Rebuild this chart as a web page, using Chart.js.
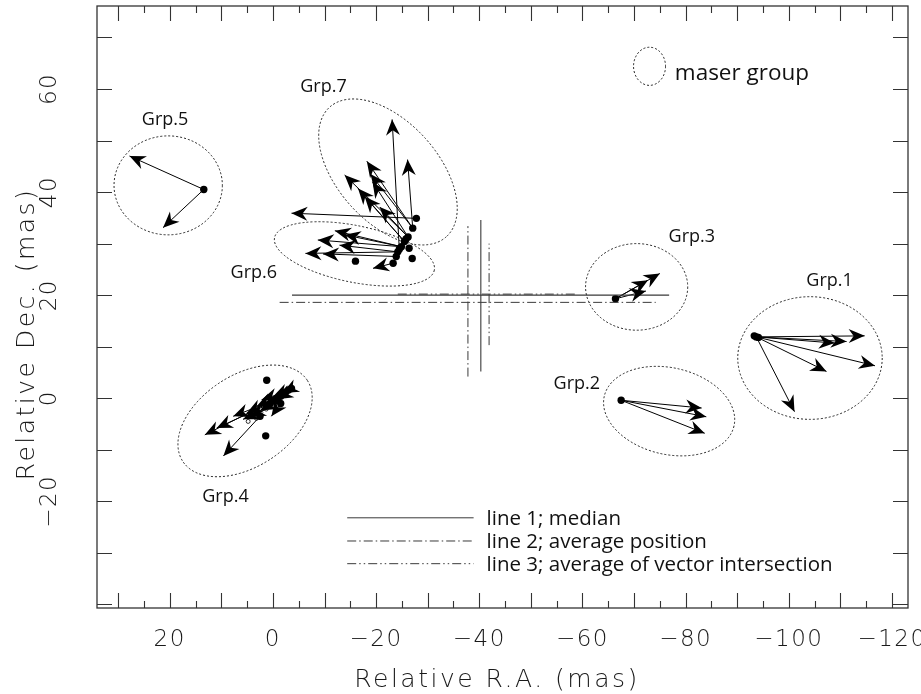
<!DOCTYPE html>
<html><head><meta charset="utf-8">
<script src="https://cdn.jsdelivr.net/npm/chart.js@4.4.1/dist/chart.umd.min.js"></script>
<style>html,body{margin:0;padding:0;background:#fff;}canvas{display:block;}</style>
</head><body>
<canvas id="c" width="921" height="694"></canvas>
<script>
// ---------- data (mas) ----------
const xTickLabels = [20, 0, -20, -40, -60, -80, -100, -120];
const yTickLabels = [60, 40, 20, 0, -20];

// maser spot positions
const spotRA  = [-93.7,-93.3,-94.1, -67.5, -66.4, 13.4,
  -27.8,-27.1,-26.2,-25.5,-24.9,-24.2,-23.9,-23.3,-26.4,-27.0,-16.0,-25.8,-24.5,
  1.2, 1.4, -1.0,2.5,0.5,-0.5,-1.5,-2.0,-2.5,-3.0,-3.6,-1.5];
const spotDec = [11.9,12.1,11.8, -0.4, 19.3, 40.5,
  34.9,33.0,31.3,30.4,29.4,28.4,27.5,26.2,29.1,27.1,26.6,30.9,28.9,
  3.5, -7.3, 0.0,-3.5,-1.0,-0.3,0.4,0.8,1.2,1.6,1.9,-1.0];

// hollow spots (group 4)
const hollowRA  = [1.3, 4.2, 3.2, 4.8];
const hollowDec = [-2.1, -3.2, -3.9, -4.5];

// proper-motion vectors: start -> end
const vecStartRA  = [-93.7,-93.7,-93.7,-93.7,-93.7,-93.7,
  -67.5,-67.5,-67.5,
  -66.4,-66.4,-66.4,
  13.4,13.4,
  -24.5,-27.1,-27.1,-26.2,-27.1,-26.2,-25.5,-25.5,-26.2,-27.8,
  -24.2,-23.9,-24.9,-24.9,-24.2,-24.9,-23.3,
  -1.0,2.5,0.5,-0.5,-1.5,-2.0,-2.5,-3.0,-3.6,-1.5,
  -3.2,-2.2,-0.8,0.2,1.0];
const vecStartDec = [11.9,11.9,11.9,11.9,11.9,11.9,
  -0.4,-0.4,-0.4,
  19.3,19.3,19.3,
  40.5,40.5,
  28.9,33.0,33.0,31.3,33.0,31.3,30.4,30.4,31.3,34.9,
  28.4,27.5,29.4,29.4,28.4,29.4,26.2,
  0.0,-3.5,-1.0,-0.3,0.4,0.8,1.2,1.6,1.9,-1.0,
  1.2,0.3,-0.6,-1.4,-2.0];
const vecEndRA  = [-114.7,-111.2,-108.9,-116.7,-107.3,-101.1,
  -83.1,-84.0,-83.7,
  -75.0,-72.7,-72.3,
  27.8,21.3,
  -23.1,-26.1,-18.2,-13.9,-18.9,-19.3,-16.5,-17.8,-20.7,-3.6,
  -6.3,-9.7,-8.7,-12.0,-12.9,-13.9,-19.4,
  13.2,9.6,10.9,7.7,5.1,3.2,2.2,0.0,-1.9,0.3,
  -0.8,1.2,2.5,4.5,5.8];
const vecEndDec = [12.1,11.0,10.7,6.3,5.2,-2.6,
  -1.9,-3.6,-6.8,
  24.2,22.9,20.8,
  47.0,33.1,
  54.1,46.3,46.0,43.3,43.5,42.0,40.7,39.1,37.1,35.9,
  28.1,28.0,30.7,32.5,29.7,31.7,25.2,
  -7.1,-11.2,-5.8,-3.5,-2.9,-1.6,-0.3,0.3,1.0,-3.5,
  -0.2,-1.2,-2.4,-3.6,-4.1];

// maser groups (ellipses): centre, semi-axes (mas), tilt (deg, clockwise on the plot)
const groupNames = ['Grp.1','Grp.2','Grp.3','Grp.4','Grp.5','Grp.6','Grp.7'];
const groupRA    = [-104.1, -76.8, -70.5, 5.4, 20.3, -15.8, -22.3];
const groupDec   = [7.8, -2.5, 21.6, -4.4, 41.3, 28.0, 43.9];
const groupSemiA = [14.0, 12.9, 9.9, 14.4, 10.5, 15.8, 16.9];
const groupSemiB = [11.9, 8.4, 8.4, 8.9, 9.6, 5.5, 9.75];
const groupTilt  = [0, 13, 0, -33, 0, 11.5, 48];
const labelRA    = [-107.9, -58.9, -81.2, 9.2, 20.9, 3.7, -9.8];
const labelDec   = [21.8, 1.8, 30.3, -20.1, 53.0, 23.3, 59.4];

// centre-estimate lines (line1 median, line2 average position, line3 avg of vector intersection)
const line1RA  = [-3.7, -76.8, null, -40.3, -40.3];
const line1Dec = [20.0, 20.0, null, 5.2, 34.6];
const line2RA  = [-1.3, -74.2, null, -37.8, -37.8];
const line2Dec = [18.6, 18.6, null, 4.2, 33.4];
const line3RA  = [-24.2, -58.9, null, -41.9, -41.9];
const line3Dec = [20.2, 20.2, null, 10.3, 30.0];
const lineNames = ['line 1; median', 'line 2; average position', 'line 3; average of vector intersection'];

// ---------- build datasets ----------
const pts = (xs, ys) => xs.map((x, i) => ({x: x, y: ys[i]}));
const shaft = [];
for (let i = 0; i < vecStartRA.length; i++) {
  shaft.push({x: vecStartRA[i], y: vecStartDec[i]}, {x: vecEndRA[i], y: vecEndDec[i]}, {x: null, y: null});
}
const DASH2 = [9, 3, 1.5, 3];
const DASH3 = [9, 3, 1.5, 3, 1.5, 3];
const LINECOL = '#3a3a3a';

const tickFont = "200 23px 'DejaVu Sans', sans-serif";
const titleFont = "200 25px 'DejaVu Sans', sans-serif";
const annFont = "'Open Sans', 'Noto Sans', sans-serif";

function arrowHead(ctx, x0, y0, x1, y1) {
  const dx = x1 - x0, dy = y1 - y0, len = Math.hypot(dx, dy);
  if (len < 1) return;
  const ux = dx / len, uy = dy / len, nx = -uy, ny = ux;
  const L = 16, W = 7, N = 11;
  ctx.beginPath();
  ctx.moveTo(x1, y1);
  ctx.lineTo(x1 - L * ux + W * nx, y1 - L * uy + W * ny);
  ctx.lineTo(x1 - N * ux, y1 - N * uy);
  ctx.lineTo(x1 - L * ux - W * nx, y1 - L * uy - W * ny);
  ctx.closePath();
  ctx.fill();
}

const decor = {
  id: 'decor',
  beforeDatasetsDraw(chart) {
    const ctx = chart.ctx, xs = chart.scales.x, ys = chart.scales.y;
    ctx.save();
    ctx.strokeStyle = '#222';
    ctx.lineWidth = 1;
    ctx.setLineDash([2, 2]);
    const ell = (cx, cy, a, b, t) => {
      const px = xs.getPixelForValue(cx), py = ys.getPixelForValue(cy);
      const rx = Math.abs(xs.getPixelForValue(cx + a) - px);
      const ry = Math.abs(ys.getPixelForValue(cy + b) - py);
      ctx.beginPath();
      ctx.ellipse(px, py, rx, ry, t * Math.PI / 180, 0, Math.PI * 2);
      ctx.stroke();
    };
    for (let i = 0; i < groupNames.length; i++) ell(groupRA[i], groupDec[i], groupSemiA[i], groupSemiB[i], groupTilt[i]);
    // key ellipse
    ell(-73.0, 64.4, 3.1, 3.7, 0);
    ctx.setLineDash([]);
    ctx.fillStyle = '#111';
    ctx.textAlign = 'center';
    ctx.textBaseline = 'alphabetic';
    ctx.font = '18px ' + annFont;
    for (let i = 0; i < groupNames.length; i++) {
      ctx.fillText(groupNames[i], xs.getPixelForValue(labelRA[i]), ys.getPixelForValue(labelDec[i]));
    }
    ctx.textAlign = 'left';
    ctx.font = '22.5px ' + annFont;
    ctx.fillText('maser group', xs.getPixelForValue(-77.9), ys.getPixelForValue(61.7));
    // legend of lines
    const lx0 = xs.getPixelForValue(-14.4), lx1 = xs.getPixelForValue(-38.9);
    const rows = [-23.2, -27.7, -32.1];
    const dashes = [[], DASH2, DASH3];
    ctx.font = '20.5px ' + annFont;
    ctx.textBaseline = 'middle';
    rows.forEach((r, i) => {
      const yy = ys.getPixelForValue(r);
      ctx.strokeStyle = LINECOL;
      ctx.setLineDash(dashes[i]);
      ctx.beginPath(); ctx.moveTo(lx0, yy); ctx.lineTo(lx1, yy); ctx.stroke();
      ctx.setLineDash([]);
      ctx.fillText(lineNames[i], lx1 + 13, yy + 1);
    });
    ctx.restore();
  },
  afterDatasetsDraw(chart) {
    const ctx = chart.ctx, xs = chart.scales.x, ys = chart.scales.y;
    ctx.save();
    ctx.fillStyle = '#000';
    for (let i = 0; i < vecStartRA.length; i++) {
      arrowHead(ctx, xs.getPixelForValue(vecStartRA[i]), ys.getPixelForValue(vecStartDec[i]),
                xs.getPixelForValue(vecEndRA[i]), ys.getPixelForValue(vecEndDec[i]));
    }
    ctx.restore();
  },
  afterDraw(chart) {
    const ctx = chart.ctx, xs = chart.scales.x, ys = chart.scales.y, a = chart.chartArea;
    ctx.save();
    ctx.strokeStyle = '#333';
    ctx.lineWidth = 1.3;
    ctx.strokeRect(a.left, a.top, a.right - a.left, a.bottom - a.top);
    ctx.lineWidth = 1.1;
    ctx.beginPath();
    for (let v = -120; v <= 30; v += 5) {
      const px = Math.round(xs.getPixelForValue(v)) + 0.5;
      const len = (v % 10 === 0) ? 15 : 7;
      ctx.moveTo(px, a.bottom); ctx.lineTo(px, a.bottom - len);
      ctx.moveTo(px, a.top); ctx.lineTo(px, a.top + len);
    }
    for (let v = -40; v <= 70; v += 10) {
      const py = Math.round(ys.getPixelForValue(v)) + 0.5;
      ctx.moveTo(a.left, py); ctx.lineTo(a.left + 15, py);
      ctx.moveTo(a.right, py); ctx.lineTo(a.right - 15, py);
    }
    ctx.stroke();
    ctx.fillStyle = '#1a1a1a';
    ctx.font = tickFont;
    ctx.letterSpacing = '1.5px';
    ctx.textAlign = 'center';
    ctx.textBaseline = 'alphabetic';
    const fmt = v => (v < 0 ? '\u2212' + Math.abs(v) : String(v));
    xTickLabels.forEach(v => ctx.fillText(fmt(v), xs.getPixelForValue(v), a.bottom + 38));
    yTickLabels.forEach(v => {
      ctx.save();
      ctx.translate(a.left - 41, ys.getPixelForValue(v));
      ctx.rotate(-Math.PI / 2);
      ctx.fillText(fmt(v), 0, 0);
      ctx.restore();
    });
    ctx.font = titleFont;
    ctx.letterSpacing = '2.5px';
    ctx.fillText('Relative R.A. (mas)', 497, a.bottom + 79);
    ctx.save();
    ctx.translate(a.left - 63, 334);
    ctx.rotate(-Math.PI / 2);
    ctx.fillText('Relative Dec. (mas)', 0, 0);
    ctx.restore();
    ctx.restore();
  }
};

new Chart(document.getElementById('c'), {
  type: 'scatter',
  data: {
    datasets: [
      {label: 'line1', data: pts(line1RA, line1Dec), showLine: true, spanGaps: false, borderColor: LINECOL, borderWidth: 1.1, pointRadius: 0},
      {label: 'line2', data: pts(line2RA, line2Dec), showLine: true, spanGaps: false, borderColor: LINECOL, borderWidth: 1, borderDash: DASH2, pointRadius: 0},
      {label: 'line3', data: pts(line3RA, line3Dec), showLine: true, spanGaps: false, borderColor: LINECOL, borderWidth: 1, borderDash: DASH3, pointRadius: 0},
      {label: 'vectors', data: shaft, showLine: true, spanGaps: false, borderColor: '#000', borderWidth: 1, pointRadius: 0},
      {label: 'spots', data: pts(spotRA, spotDec), pointRadius: 3.7, backgroundColor: '#000', borderWidth: 0},
      {label: 'hollow', data: pts(hollowRA, hollowDec), pointRadius: 2, backgroundColor: '#fff', borderColor: '#000', borderWidth: 0.8}
    ]
  },
  options: {
    responsive: false,
    animation: false,
    devicePixelRatio: 1,
    layout: {padding: {left: 97, top: 6, right: 13, bottom: 86}},
    plugins: {legend: {display: false}, tooltip: {enabled: false}},
    scales: {
      x: {type: 'linear', reverse: true, min: -123.1, max: 34.1, display: false},
      y: {type: 'linear', min: -40.7, max: 76.1, display: false}
    }
  },
  plugins: [decor]
});
</script>
</body></html>
